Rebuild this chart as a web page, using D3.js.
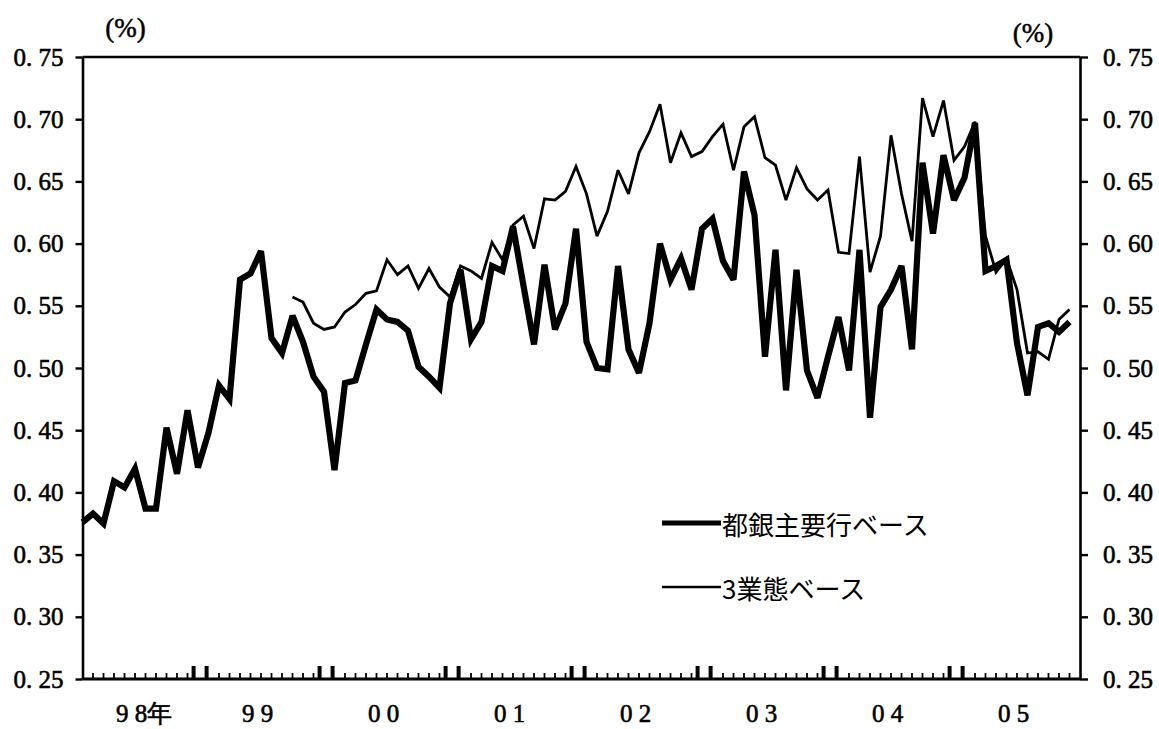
<!DOCTYPE html>
<html><head><meta charset="utf-8">
<script src="https://cdn.jsdelivr.net/npm/d3@7"></script>
<style>
html,body{margin:0;padding:0;background:#fff;}
svg{display:block;}
.num{font-family:"Liberation Serif","DejaVu Serif",serif;font-size:25px;fill:#000;stroke:#000;stroke-width:0.6px;}
.unit{font-family:"Liberation Serif","DejaVu Serif",serif;font-size:27px;fill:#000;stroke:#000;stroke-width:0.5px;}
.leg{font-family:"Noto Sans CJK JP",sans-serif;font-size:26px;fill:#000;}
</style></head>
<body>
<svg id="c" width="1159" height="729"></svg>
<script>
// ---- data ----
const monthStart = new Date(1998, 0, 1);
const months = d3.timeMonth.range(monthStart, new Date(2005, 11, 1)); // Jan 1998 - Nov 2005
const bigBanks = [
 0.376,0.383,0.375,0.409,0.404,0.419,0.387,0.387,0.452,0.415,0.466,0.420,
 0.448,0.486,0.475,0.571,0.576,0.594,0.524,0.512,0.542,0.521,0.493,0.481,
 0.418,0.488,0.490,0.519,0.547,0.539,0.537,0.530,0.501,0.493,0.484,0.552,
 0.579,0.523,0.537,0.582,0.578,0.614,0.566,0.519,0.583,0.531,0.552,0.612,
 0.521,0.500,0.499,0.582,0.515,0.496,0.536,0.600,0.571,0.588,0.563,0.612,
 0.620,0.586,0.571,0.658,0.623,0.509,0.595,0.482,0.579,0.498,0.476,0.509,
 0.541,0.498,0.595,0.460,0.549,0.563,0.582,0.515,0.665,0.608,0.671,0.635,
 0.653,0.697,0.578,0.582,0.587,0.520,0.478,0.533,0.536,0.529,0.537
];
const threeTypesStart = 20; // Sep 1999
const threeTypes = [
 0.557,0.553,0.536,0.531,
 0.533,0.545,0.551,0.560,0.562,0.587,0.575,0.582,0.564,0.580,0.565,0.557,
 0.582,0.578,0.572,0.601,0.587,0.615,0.622,0.596,0.636,0.635,0.642,0.662,
 0.640,0.606,0.626,0.659,0.640,0.673,0.690,0.712,0.665,0.689,0.670,0.674,
 0.686,0.696,0.659,0.694,0.702,0.669,0.663,0.635,0.661,0.644,0.635,0.643,
 0.593,0.592,0.670,0.577,0.606,0.687,0.640,0.602,0.717,0.686,0.715,0.667,
 0.678,0.698,0.606,0.577,0.588,0.563,0.512,0.513,0.507,0.539,0.547
];
const yTicks = [0.25,0.30,0.35,0.40,0.45,0.50,0.55,0.60,0.65,0.70,0.75];
const yearLabels = ["9 8年","9 9","0 0","0 1","0 2","0 3","0 4","0 5"];
const legendLabels = ["都銀主要行ベース","3業態ベース"];
const unitLabel = "(%)";

// ---- chart ----
const svg = d3.select("#c");
const x = d3.scaleLinear().domain([0, 95]).range([82.5, 1080]);
const y = d3.scaleLinear().domain([0.25, 0.75]).range([679, 57]);
const fmt = v => d3.format(".2f")(v).replace(".", ". ");

// left axis
const gl = svg.append("g").attr("transform", `translate(${x(0)},0)`)
  .call(d3.axisLeft(y).tickValues(yTicks).tickSize(7).tickSizeOuter(0).tickPadding(12).tickFormat(fmt));
// right axis
const gr = svg.append("g").attr("transform", `translate(${x(95)},0)`)
  .call(d3.axisRight(y).tickValues(yTicks).tickSize(8).tickSizeOuter(0).tickPadding(15).tickFormat(fmt));
[gl, gr].forEach(g => {
  g.select(".domain").attr("stroke", "#000").attr("stroke-width", 2.6);
  g.selectAll(".tick line").attr("stroke", "#000").attr("stroke-width", 2.4);
  g.selectAll(".tick text").attr("class", "num").attr("font-family", null).attr("font-size", null);
});
// top and bottom borders
svg.append("line").attr("x1", x(0)).attr("x2", x(95)).attr("y1", y(0.75)).attr("y2", y(0.75))
  .attr("stroke", "#000").attr("stroke-width", 2.6);
svg.append("line").attr("x1", x(0)).attr("x2", x(95)).attr("y1", y(0.25)).attr("y2", y(0.25))
  .attr("stroke", "#000").attr("stroke-width", 3);

// month ticks on the bottom
const monthIdx = d3.range(1, 95).filter(i => (i % 12) !== 11 && (i % 12) !== 0);
svg.append("g").selectAll("line").data(monthIdx).join("line")
  .attr("x1", d => x(d)).attr("x2", d => x(d))
  .attr("y1", y(0.25)).attr("y2", y(0.25) - 6)
  .attr("stroke", "#000").attr("stroke-width", 1.8);
// year boundary markers
const yearIdx = d3.range(1, 8);
const ym = svg.append("g");
yearIdx.forEach(k => {
  [-6.5, 6.5].forEach(off => {
    ym.append("line").attr("x1", x(12 * k - 0.8) + off).attr("x2", x(12 * k - 0.8) + off)
      .attr("y1", y(0.25)).attr("y2", y(0.25) - 13)
      .attr("stroke", "#000").attr("stroke-width", 4);
  });
});
// year labels
svg.append("g").selectAll("text").data(yearLabels).join("text")
  .attr("class", "num")
  .attr("x", (d, i) => x(12 * i + 3.2)).attr("y", 722)
  .text(d => d);

// unit labels
svg.append("text").attr("class", "unit").attr("text-anchor", "middle")
  .attr("x", x(0) + 43).attr("y", 37).text(unitLabel);
svg.append("text").attr("class", "unit").attr("text-anchor", "middle")
  .attr("x", x(95) - 47).attr("y", 42).text(unitLabel);

// series
const lineA = d3.line().x((d, i) => x(i)).y(d => y(d));
svg.append("path").datum(bigBanks).attr("d", lineA)
  .attr("fill", "none").attr("stroke", "#000").attr("stroke-width", 6.2).attr("stroke-linejoin", "miter").attr("stroke-miterlimit", 3);
const lineB = d3.line().x((d, i) => x(i + threeTypesStart)).y(d => y(d));
svg.append("path").datum(threeTypes).attr("d", lineB)
  .attr("fill", "none").attr("stroke", "#000").attr("stroke-width", 2.8).attr("stroke-linejoin", "miter").attr("stroke-miterlimit", 3);

// legend
const legW = [5, 2.7];
const legY = [523, 587];
legendLabels.forEach((lab, i) => {
  svg.append("line").attr("x1", 662).attr("x2", 721).attr("y1", legY[i]).attr("y2", legY[i])
    .attr("stroke", "#000").attr("stroke-width", legW[i]);
  svg.append("text").attr("class", "leg").attr("x", 722).attr("y", legY[i])
    .attr("dominant-baseline", "central").text(lab);
});
</script>
</body></html>
